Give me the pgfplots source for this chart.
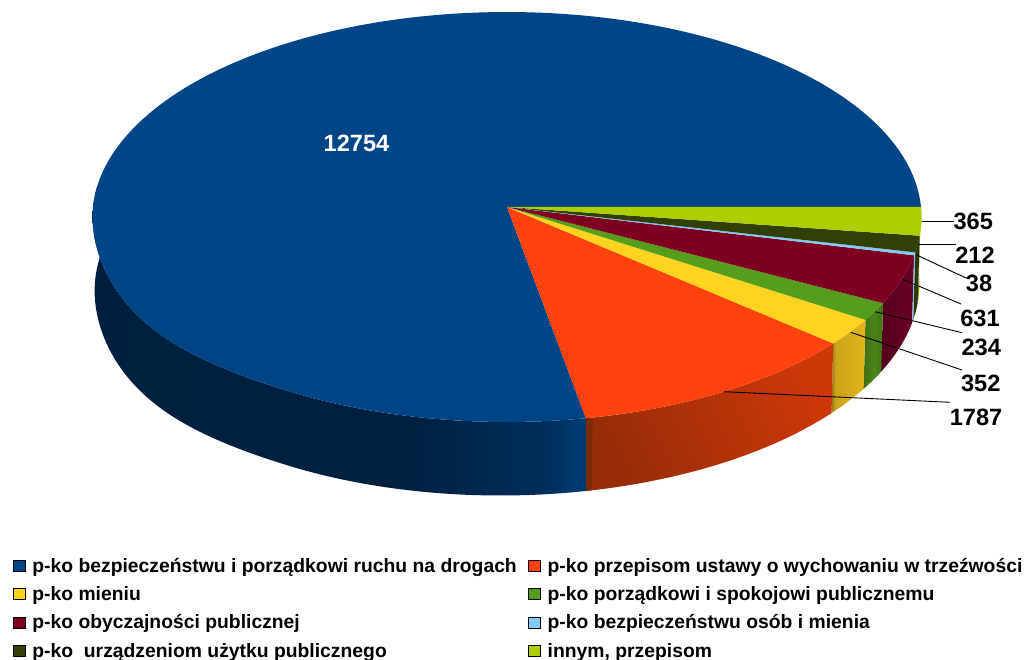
\documentclass[border=0pt]{standalone}
\usepackage{fontspec}
\setmainfont{Liberation Sans}
\usepackage{pgfplots}
\pgfplotsset{compat=1.18}
\definecolor{c1}{HTML}{004586}
\definecolor{c2}{HTML}{FF420E}
\definecolor{c3}{HTML}{FFD320}
\definecolor{c4}{HTML}{579D1C}
\definecolor{c5}{HTML}{7E0021}
\definecolor{c6}{HTML}{83CAFF}
\definecolor{c7}{HTML}{314004}
\definecolor{c8}{HTML}{AECF00}
\definecolor{bA}{RGB}{0,31,60}\definecolor{bB}{RGB}{0,32,64}\definecolor{bC}{RGB}{0,46,90}\definecolor{bD}{RGB}{0,58,112}
\definecolor{oA}{RGB}{125,42,10}\definecolor{oB}{RGB}{150,44,8}\definecolor{oC}{RGB}{205,56,8}
\definecolor{yA}{RGB}{150,120,20}\definecolor{yB}{RGB}{205,165,28}\definecolor{yC}{RGB}{225,180,28}
\definecolor{gA}{RGB}{60,110,20}\definecolor{gB}{RGB}{76,132,24}\definecolor{gC}{RGB}{66,118,20}
\definecolor{mA}{RGB}{84,0,30}\definecolor{mC}{RGB}{106,0,38}
\pgfdeclarehorizontalshading{sblue}{100bp}{color(0bp)=(bA);color(56bp)=(bB);color(71bp)=(bC);color(74bp)=(bD);color(100bp)=(bD)}
\pgfdeclarehorizontalshading{sorange}{100bp}{color(0bp)=(oB);color(25bp)=(oB);color(75bp)=(oC);color(100bp)=(oC)}
\pgfdeclarehorizontalshading{syellow}{100bp}{color(0bp)=(yA);color(25bp)=(yA);color(31bp)=(yB);color(75bp)=(yC);color(100bp)=(yC)}
\pgfdeclarehorizontalshading{sgreen}{100bp}{color(0bp)=(gA);color(25bp)=(gA);color(50bp)=(gB);color(75bp)=(gC);color(100bp)=(gC)}
\pgfdeclarehorizontalshading{smaroon}{100bp}{color(0bp)=(mA);color(25bp)=(mA);color(75bp)=(mC);color(100bp)=(mC)}
% values of the eight slices, clockwise from the right-hand edge
\def\vLime{365}\def\vOlive{212}\def\vSky{38}\def\vMaroon{631}\def\vGreen{234}\def\vYellow{352}\def\vOrange{1787}\def\vNavy{12754}
\def\vTotal{16373}
\pgfmathsetmacro\aA{0}
\pgfmathsetmacro\aB{\aA+\vLime/\vTotal*360}
\pgfmathsetmacro\aC{\aB+\vOlive/\vTotal*360}
\pgfmathsetmacro\aD{\aC+\vSky/\vTotal*360}
\pgfmathsetmacro\aE{\aD+\vMaroon/\vTotal*360}
\pgfmathsetmacro\aF{\aE+\vGreen/\vTotal*360}
\pgfmathsetmacro\aG{\aF+\vYellow/\vTotal*360}
\pgfmathsetmacro\aH{\aG+\vOrange/\vTotal*360}
\pgfmathsetmacro\aHe{\aH-0.9}
\def\aI{360}
% top face: apex + rim
\newcommand\facepoly[3]{%
  \gdef\coords{(507,207) }%
  \pgfmathtruncatemacro\nn{ceil((#2-#1)/1.5)+1}%
  \foreach \i in {0,...,\nn}{%
    \pgfmathsetmacro\q{#1+(#2-#1)*(\i/\nn)}%
    \pgfmathsetmacro\px{tx(\q)}\pgfmathsetmacro\py{ty(\q)}%
    \xdef\coords{\coords(\px,\py) }%
  }%
  \edef\tmp{\noexpand\addplot[\unexpanded{#3},draw=none,forget plot] coordinates {\coords} --cycle;}\tmp}
% side wall: top rim forward, bottom rim back
\newcommand\wallpoly[3]{%
  \gdef\coords{}%
  \pgfmathtruncatemacro\nn{ceil((#2-#1)/1.5)+1}%
  \foreach \i in {0,...,\nn}{%
    \pgfmathsetmacro\q{#1+(#2-#1)*(\i/\nn)}%
    \pgfmathsetmacro\px{tx(\q)}\pgfmathsetmacro\py{ty(\q)}%
    \xdef\coords{\coords(\px,\py) }%
  }%
  \foreach \i in {\nn,...,0}{%
    \pgfmathsetmacro\q{#1+(#2-#1)*(\i/\nn)}%
    \pgfmathsetmacro\px{bx(\q)}\pgfmathsetmacro\py{by(\q)}%
    \xdef\coords{\coords(\px,\py) }%
  }%
  \edef\tmp{\noexpand\addplot[\unexpanded{#3},draw=none,forget plot] coordinates {\coords} --cycle;}\tmp}
\begin{document}
\begin{tikzpicture}[declare function={
  pw(\q)=1-0.0488*sin(\q);
  tx(\q)=507+414*cos(\q)/pw(\q);
  ty(\q)=207+204.5*sin(\q)/pw(\q)+(\q>120)*(\q<180)*5.5*sin(3*(\q-120))^2;
  dp(\q)=70+3.5*sin(\q)-3.5*cos(\q);
  bx(\q)=507+0.995*(tx(\q)-507);
  by(\q)=ty(\q)+dp(\q);
}]
\path[use as bounding box] (0,0) rectangle (1029pt,660pt);
\begin{axis}[
  at={(0,0)},anchor=south west,
  scale only axis, width=1029pt, height=660pt,
  xmin=0, xmax=1029, ymin=0, ymax=660, y dir=reverse,
  hide axis, clip=false,
  legend columns=2,
  legend cell align=left,
  legend image code/.code={\fill[#1] (0pt,-5.5pt) rectangle (11.5pt,5.5pt);\path (19pt,0pt);},
  legend style={at={(axis cs:13,558)},anchor=north west,draw=none,fill=none,inner sep=0pt,outer sep=0pt,
    font=\fontsize{19.33}{21}\selectfont\bfseries,row sep=12.75pt,
    /tikz/every even column/.append style={column sep=11.5pt},
    nodes={inner sep=0pt,outer sep=0pt}},
]
% walls
\wallpoly{\aA}{\aB}{fill=c8!80!black}
\wallpoly{\aB}{\aC}{fill=c7!85!black}
\wallpoly{\aD}{\aE}{shade,shading=smaroon}
\wallpoly{\aC}{\aD}{fill=c6!95!black}
\wallpoly{\aE}{\aF}{shade,shading=sgreen}
\wallpoly{\aF}{\aG}{shade,shading=syellow}
\wallpoly{\aG}{\aH}{shade,shading=sorange,shading angle=25}
\wallpoly{\aHe}{\aH}{fill=oA}
\wallpoly{\aH}{186}{shade,shading=sblue}
% top faces
\facepoly{\aH}{\aI}{fill=c1}
\facepoly{\aG}{\aH}{fill=c2}
\facepoly{\aF}{\aG}{fill=c3}
\facepoly{\aE}{\aF}{fill=c4}
\facepoly{\aD}{\aE}{fill=c5}
\facepoly{\aC}{\aD}{fill=c6}
\facepoly{\aB}{\aC}{fill=c7}
\facepoly{\aA}{\aB}{fill=c8}
% leader lines
\addplot[black,line width=0.9pt,forget plot] coordinates {(922,221.7) (954,221.7)};
\addplot[black,line width=0.9pt,forget plot] coordinates {(918.3,244) (955.7,244)};
\addplot[black,line width=0.9pt,forget plot] coordinates {(916.7,255) (966.7,278.3)};
\addplot[black,line width=0.9pt,forget plot] coordinates {(902.7,279.3) (961,304)};
\addplot[black,line width=0.9pt,forget plot] coordinates {(875,311.7) (962,332.7)};
\addplot[black,line width=0.9pt,forget plot] coordinates {(850.7,332.3) (962,370)};
\addplot[black,line width=0.9pt,forget plot] coordinates {(724,391.7) (950,402.3)};
% labels
\tikzset{lab/.style={font=\fontsize{23.6}{24}\selectfont\bfseries,inner sep=0pt,anchor=center}}
\node[lab,white] at (axis cs:356.5,143.7) {12754};
\node[lab] at (axis cs:973.3,221.5) {365};
\node[lab] at (axis cs:975,255.5) {212};
\node[lab] at (axis cs:979,283.8) {38};
\node[lab] at (axis cs:980,318.8) {631};
\node[lab] at (axis cs:981.3,347.8) {234};
\node[lab] at (axis cs:980.7,383.5) {352};
\node[lab] at (axis cs:976,417.2) {1787};
% legend
\addlegendimage{fill=c1}\addlegendentry{p-ko bezpieczeństwu i porządkowi ruchu na drogach}
\addlegendimage{fill=c2}\addlegendentry{p-ko przepisom ustawy o wychowaniu w trzeźwości}
\addlegendimage{fill=c3}\addlegendentry{p-ko mieniu}
\addlegendimage{fill=c4}\addlegendentry{p-ko porządkowi i spokojowi publicznemu}
\addlegendimage{fill=c5}\addlegendentry{p-ko obyczajności publicznej}
\addlegendimage{fill=c6}\addlegendentry{p-ko bezpieczeństwu osób i mienia}
\addlegendimage{fill=c7}\addlegendentry{p-ko\ \ urządzeniom użytku publicznego}
\addlegendimage{fill=c8}\addlegendentry{innym, przepisom}
\end{axis}
\end{tikzpicture}
\end{document}
